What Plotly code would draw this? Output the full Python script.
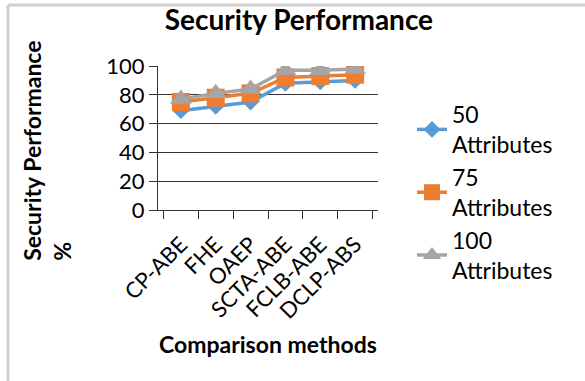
import plotly.graph_objects as go

categories = ["CP-ABE", "FHE", "OAEP", "SCTA-ABE", "FCLB-ABE", "DCLP-ABS"]
series_names = ["50<br>Attributes", "75<br>Attributes", "100<br>Attributes"]
values_50 = [69, 72, 75, 88, 89, 90]
values_75 = [75, 78, 81, 92, 93, 94]
values_100 = [77, 81, 84, 97, 97, 98]
y_ticks = [0, 20, 40, 60, 80, 100]

FONT = "Lato"
colors = ["#5B9BD5", "#ED7D31", "#A5A5A5"]
symbols = ["diamond", "square", "triangle-up"]
sizes = [13, 18, 19]

fig = go.Figure()
for name, vals, c, s, sz in zip(series_names, [values_50, values_75, values_100], colors, symbols, sizes):
    fig.add_trace(go.Scatter(
        x=categories, y=vals, name=name, mode="lines+markers",
        line=dict(color=c, width=3.5),
        marker=dict(symbol=s, size=sz, color=c),
    ))

fig.update_layout(
    width=585, height=381,
    margin=dict(l=158, r=207, t=66, b=171, autoexpand=False),
    paper_bgcolor="white", plot_bgcolor="white",
    font=dict(family=FONT, color="#000000", size=22),
    showlegend=True,
    legend=dict(x=412 / 585, y=1 - 93 / 381, xref="container", yref="container",
                xanchor="left", yanchor="top", maxheight=1,
                font=dict(size=23, family=FONT), tracegroupgap=1,
                bgcolor="rgba(0,0,0,0)"),
    title=dict(text="<b>Security Performance</b>", xref="container", yref="container",
               x=0.511, xanchor="center", y=0.972, yanchor="top",
               font=dict(size=28, family=FONT)),
)
fig.update_xaxes(
    type="category", tickangle=-45, tickson="boundaries",
    ticks="outside", ticklen=8, tickcolor="#333", showline=True, linecolor="#333",
    showgrid=False, tickfont=dict(size=22, family=FONT), ticklabelstandoff=12,
)
fig.update_yaxes(
    range=[0, 100], tickvals=y_ticks, ticks="outside", ticklen=8, tickcolor="#333",
    showline=True, linecolor="#333", gridcolor="#333", gridwidth=1,
    tickfont=dict(size=22, family=FONT), zeroline=False,
)
fig.add_annotation(text="<b>Security Performance<br>%</b>", textangle=-90, align="left",
                   xref="paper", yref="paper", x=-0.505, y=0.41,
                   xanchor="center", yanchor="middle", showarrow=False,
                   font=dict(size=23, family=FONT))
fig.add_annotation(text="<b>Comparison methods</b>",
                   xref="paper", yref="paper", x=0.5, y=-0.93,
                   xanchor="center", yanchor="middle", showarrow=False,
                   font=dict(size=23, family=FONT))
# chart area border (top and left edges visible)
fig.add_shape(type="line", xref="paper", yref="paper", x0=(8 - 158) / 220, x1=2.0,
              y0=(210 - 5) / 144, y1=(210 - 5) / 144, line=dict(color="#D0D0D0", width=3))
fig.add_shape(type="line", xref="paper", yref="paper", x0=(8 - 158) / 220, x1=(8 - 158) / 220,
              y0=(210 - 5) / 144, y1=-2.0, line=dict(color="#D0D0D0", width=3))

fig.write_html("out.html", config={"displayModeBar": False},
               post_script="document.body.style.margin='0';")
